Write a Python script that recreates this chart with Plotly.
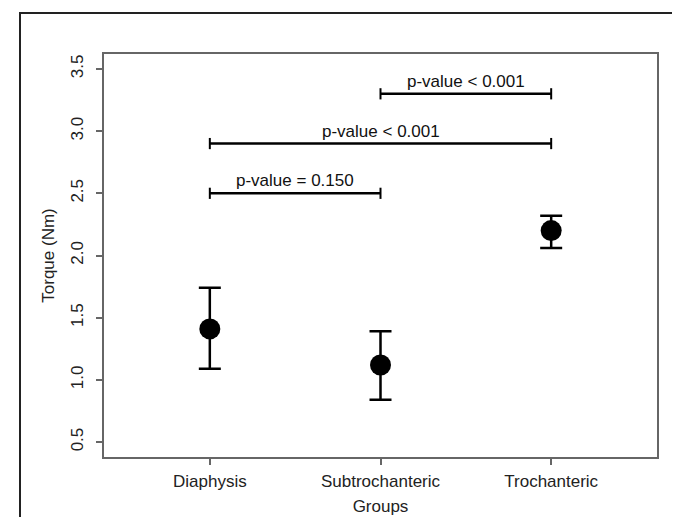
import plotly.graph_objects as go

# ---- data ----
groups = ["Diaphysis", "Subtrochanteric", "Trochanteric"]
means = [1.41, 1.12, 2.20]
upper = [1.74, 1.39, 2.32]
lower = [1.09, 0.84, 2.06]

bracket_from = [0, 1, 0]
bracket_to = [1, 2, 2]
bracket_level = [2.5, 3.3, 2.9]
bracket_text = ["p-value = 0.150", "p-value < 0.001", "p-value < 0.001"]

y_ticks = [0.5, 1.0, 1.5, 2.0, 2.5, 3.0, 3.5]
y_ticktext = ["0.5", "1.0", "1.5", "2.0", "2.5", "3.0", "3.5"]

FONT = "Liberation Sans, Arial, sans-serif"
FS = 17
xpos = [i + 1 for i in range(len(groups))]

fig = go.Figure()

# error bars + points
fig.add_trace(go.Scatter(
    x=xpos, y=means, mode="markers",
    marker=dict(size=21, color="black", line=dict(width=0)),
    error_y=dict(type="data", symmetric=False,
                 array=[u - m for u, m in zip(upper, means)],
                 arrayminus=[m - l for m, l in zip(means, lower)],
                 color="black", thickness=2.5, width=11),
    showlegend=False, hoverinfo="skip"))

# brackets
for a, b, lvl, txt in zip(bracket_from, bracket_to, bracket_level, bracket_text):
    xa, xb = xpos[a], xpos[b]
    fig.add_trace(go.Scatter(
        x=[xa, xb], y=[lvl, lvl], mode="lines+markers",
        line=dict(color="black", width=2.5),
        marker=dict(symbol="line-ns", size=8, line=dict(color="black", width=2)),
        showlegend=False, hoverinfo="skip"))
    fig.add_annotation(x=(xa + xb) / 2, y=lvl, text=txt, showarrow=False,
                       yanchor="bottom", yshift=1,
                       font=dict(family=FONT, size=FS, color="#111"))

# outer frame
L, R, T, B = 96, 31, 46, 68
W, H = 680, 517
pw, ph = W - L - R, H - T - B
fig.add_shape(type="rect", xref="paper", yref="paper",
              x0=(12 - L) / pw, x1=(674 - L) / pw,
              y0=(H - B - 540) / ph, y1=(H - B - 5) / ph,
              line=dict(color="#222", width=2), fillcolor="rgba(0,0,0,0)",
              layer="above")

axis_common = dict(showline=True, mirror=True, linecolor="#666", linewidth=1.5,
                   ticks="outside", ticklen=6, tickwidth=1.5, tickcolor="#666",
                   showgrid=False, zeroline=False,
                   tickfont=dict(family=FONT, size=FS, color="#222"))

fig.update_layout(
    width=W, height=H,
    margin=dict(l=L, r=R, t=T, b=B, autoexpand=False),
    paper_bgcolor="white", plot_bgcolor="white",
    xaxis=dict(range=[0.38, 3.62], tickvals=xpos, ticktext=groups,
               ticklabelstandoff=2,
               title=dict(text="Groups", standoff=10,
                          font=dict(family=FONT, size=FS, color="#222")),
               **axis_common),
    yaxis=dict(range=[0.38, 3.62], tickvals=y_ticks, ticktext=y_ticktext,
               tickangle=-90, ticklabelstandoff=6,
               title=dict(text="Torque (Nm)", standoff=10,
                          font=dict(family=FONT, size=FS, color="#222")),
               **axis_common),
)

fig.write_html("out.html")
